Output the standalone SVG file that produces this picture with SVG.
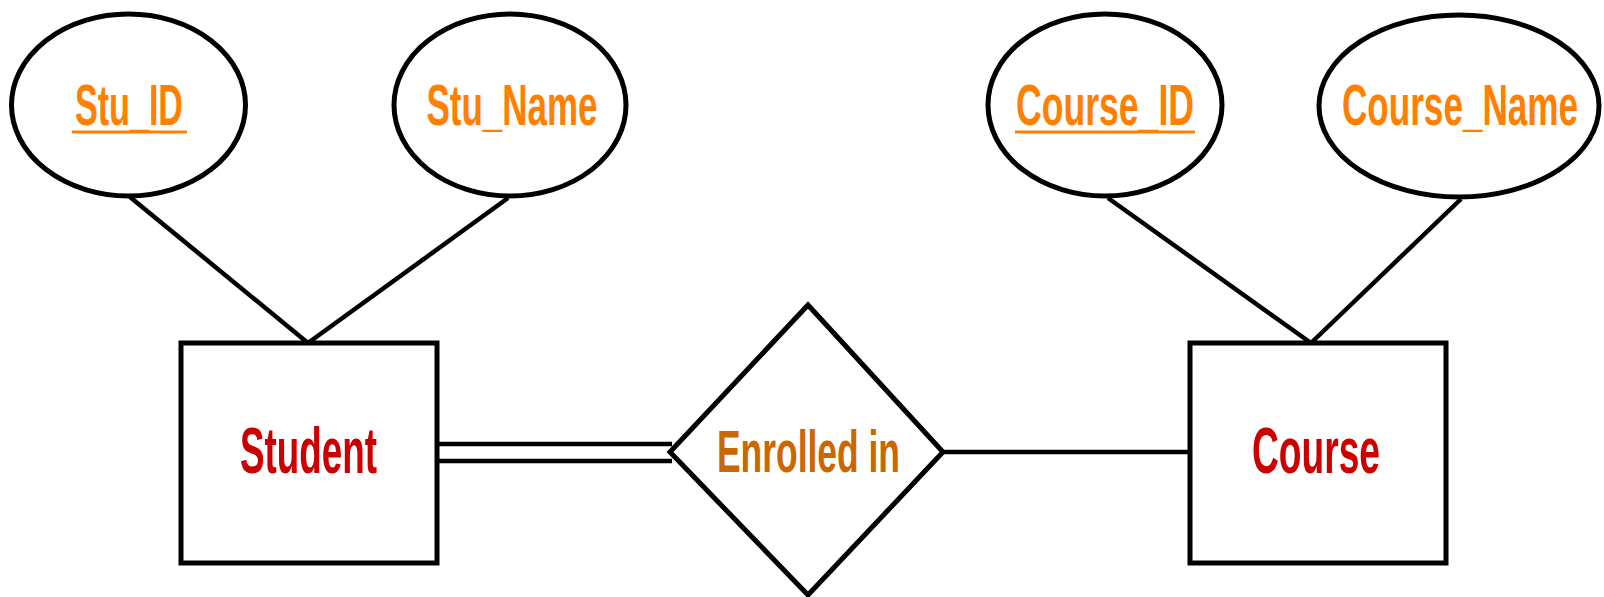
<svg xmlns="http://www.w3.org/2000/svg" width="1604" height="597" viewBox="0 0 1604 597">
<style>
.shape{fill:#fff;stroke:#000;stroke-width:5}
.conn{stroke:#000;stroke-width:4.5;fill:none}
text{font-family:"Liberation Sans",Arial,sans-serif;font-weight:bold;text-anchor:middle}
.attr{fill:#FF8000;font-size:58px}
.ent{fill:#CC0000;font-size:64px}
.rel{fill:#CC6600;font-size:59px}
.ul{stroke:#FF8000;stroke-width:3}
</style>
<rect width="1604" height="597" fill="#fff"/>
<g id="connectors">
<line class="conn" x1="130" y1="197" x2="308" y2="343"/>
<line class="conn" x1="508" y1="198" x2="308" y2="343"/>
<line class="conn" x1="1108" y1="198" x2="1311" y2="343"/>
<line class="conn" x1="1461" y1="199" x2="1311" y2="343"/>
<line class="conn" x1="437" y1="444" x2="672" y2="444" stroke-width="5"/>
<line class="conn" x1="437" y1="461" x2="672" y2="461" stroke-width="5"/>
<line class="conn" x1="943" y1="452" x2="1190" y2="452"/>
</g>
<g id="stu_id">
<ellipse class="shape" cx="128.5" cy="105" rx="117" ry="91"/>
<text class="attr" x="129" y="125" textLength="108" lengthAdjust="spacingAndGlyphs">Stu_ID</text>
<line class="ul" x1="72" y1="132" x2="187" y2="132"/>
</g>
<g id="stu_name">
<ellipse class="shape" cx="510" cy="105" rx="116" ry="91"/>
<text class="attr" x="512" y="125" textLength="171" lengthAdjust="spacingAndGlyphs">Stu_Name</text>
</g>
<g id="course_id">
<ellipse class="shape" cx="1105" cy="105" rx="117" ry="91"/>
<text class="attr" x="1105" y="125" textLength="178" lengthAdjust="spacingAndGlyphs">Course_ID</text>
<line class="ul" x1="1015" y1="132" x2="1195" y2="132"/>
</g>
<g id="course_name">
<ellipse class="shape" cx="1459" cy="106" rx="140" ry="91"/>
<text class="attr" x="0" y="0" font-size="35" transform="translate(1460,125) scale(1,1.657)" textLength="236" lengthAdjust="spacingAndGlyphs" style="font-size:35px">Course_Name</text>
</g>
<g id="student">
<rect class="shape" x="181" y="343" width="256" height="220"/>
<text class="ent" x="308.5" y="473" textLength="137" lengthAdjust="spacingAndGlyphs">Student</text>
</g>
<g id="enrolled_in">
<polygon class="shape" points="808,305 943,452 808,595 670,452" stroke-width="4.5"/>
<text class="rel" x="808.5" y="472" textLength="183" lengthAdjust="spacingAndGlyphs">Enrolled in</text>
</g>
<g id="course">
<rect class="shape" x="1190" y="343" width="256" height="220"/>
<text class="ent" x="1316" y="473" textLength="128" lengthAdjust="spacingAndGlyphs">Course</text>
</g>
</svg>
